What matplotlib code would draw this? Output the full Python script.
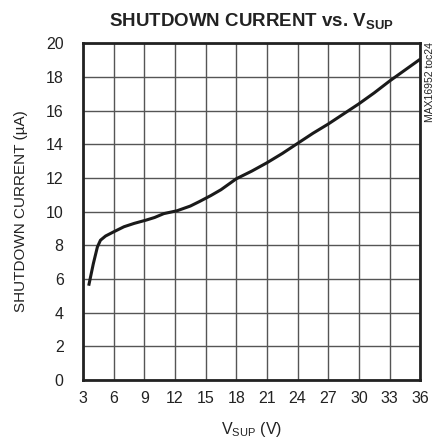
import matplotlib
matplotlib.use("Agg")
import matplotlib.pyplot as plt

plt.rcParams["font.family"] = ["Liberation Sans", "DejaVu Sans"]
plt.rcParams["mathtext.fontset"] = "custom"
plt.rcParams["mathtext.rm"] = "Liberation Sans"
plt.rcParams["mathtext.bf"] = "Liberation Sans:bold"

# Data
vsup = [3.55, 4.0, 4.4, 4.7, 5.2, 6.0, 7.0, 8.0, 9.2, 10.0, 10.9, 12.2, 13.5,
        14.4, 15.5, 16.5, 18.0, 19.5, 21.0, 22.5, 24.0, 25.5, 27.0, 28.5, 30.0,
        31.5, 33.0, 34.5, 36.0]
i_shdn = [5.6, 6.9, 7.9, 8.3, 8.55, 8.8, 9.1, 9.3, 9.5, 9.65, 9.88, 10.05, 10.33,
          10.6, 10.95, 11.3, 11.95, 12.4, 12.9, 13.45, 14.05, 14.65, 15.2, 15.8, 16.4,
          17.05, 17.75, 18.4, 19.05]

xticks = list(range(3, 37, 3))
yticks = list(range(0, 21, 2))

fig = plt.figure(figsize=(4.35, 4.45), dpi=100)
ax = fig.add_axes([0.191, 0.146, 0.775, 0.757])

ax.plot(vsup, i_shdn, color="#1a1a1a", lw=2.2, solid_capstyle="butt", zorder=3)

ax.set_xlim(3, 36)
ax.set_ylim(0, 20)
ax.set_xticks(xticks)
ax.set_yticks(yticks)
ax.grid(True, color="#555555", lw=1.0)
ax.tick_params(axis="y", length=0, labelsize=11.5, pad=14, colors="#222222")
ax.tick_params(axis="x", length=0, labelsize=11.5, pad=8, colors="#222222")
for s in ax.spines.values():
    s.set_linewidth(2.0)
    s.set_color("#222222")

ax.set_xlabel(r"$\mathregular{V_{SUP}}$ (V)", fontsize=11.5, color="#222222", labelpad=10)
ax.set_ylabel("SHUTDOWN CURRENT (\u00b5A)", fontsize=11, color="#222222", labelpad=13)
ax.set_title(r"SHUTDOWN CURRENT vs. $\mathbf{V_{SUP}}$", fontsize=13.5,
             fontweight="bold", color="#222222", pad=12)

fig.text(0.988, 0.905, "MAX16952 toc24", rotation=90, fontsize=7.5,
         ha="center", va="top", color="#222222")

fig.savefig("out.png", dpi=100)
